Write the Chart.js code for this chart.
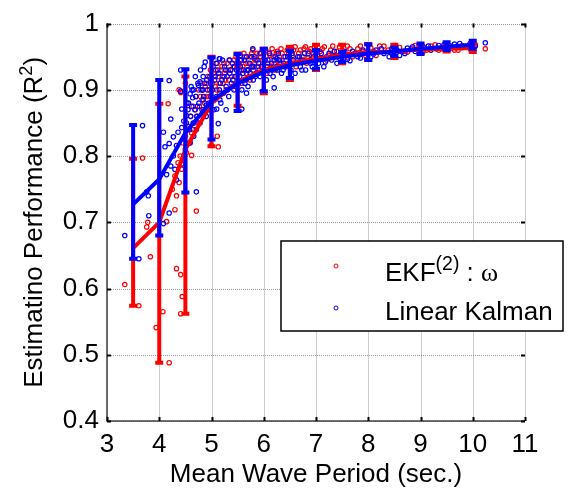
<!DOCTYPE html>
<html>
<head>
<meta charset="utf-8">
<script src="https://cdn.jsdelivr.net/npm/chart.js@4.4.1/dist/chart.umd.min.js"></script>
<style>
  body { margin: 0; background: #fff; }
  canvas { display: block; }
</style>
</head>
<body>
<canvas id="perfChart" width="568" height="494"></canvas>
<script>
// axis ticks
const xTicks = [3, 4, 5, 6, 7, 8, 9, 10, 11];
const yTicks = [0.4, 0.5, 0.6, 0.7, 0.8, 0.9, 1];

// binned mean wave periods with mean and min / max of R^2
const periods = [3.5, 4, 4.5, 5, 5.5, 6, 6.5, 7, 7.5, 8, 8.5, 9, 9.5, 10];
const ekfMean = [0.661, 0.700, 0.810, 0.880, 0.912, 0.930, 0.940, 0.947, 0.953, 0.957, 0.958, 0.961, 0.962, 0.963];
const ekfLow  = [0.574, 0.488, 0.562, 0.815, 0.876, 0.895, 0.915, 0.930, 0.940, 0.945, 0.948, 0.955, 0.958, 0.957];
const ekfHigh = [0.796, 0.879, 0.920, 0.950, 0.955, 0.962, 0.965, 0.968, 0.968, 0.969, 0.968, 0.967, 0.967, 0.969];
const kalmanMean = [0.727, 0.765, 0.835, 0.883, 0.910, 0.927, 0.937, 0.944, 0.950, 0.955, 0.958, 0.962, 0.965, 0.968];
const kalmanLow  = [0.645, 0.680, 0.745, 0.825, 0.868, 0.898, 0.918, 0.932, 0.942, 0.945, 0.951, 0.954, 0.960, 0.962];
const kalmanHigh = [0.847, 0.915, 0.931, 0.949, 0.954, 0.962, 0.959, 0.960, 0.957, 0.969, 0.964, 0.970, 0.972, 0.974];

// individual runs [period, R^2]
const ekfRuns = [
  [3.34,0.606],[3.61,0.574],[3.68,0.797],[3.83,0.648],[3.76,0.693],[3.78,0.700],[3.94,0.541],[4.07,0.565],
  [4.14,0.701],[4.17,0.879],[4.19,0.488],[4.30,0.719],[4.33,0.630],[4.41,0.621],[4.44,0.588],[4.41,0.562],
  [4.41,0.896],[4.59,0.820],[4.62,0.801],[4.71,0.717],[5.00,0.816],[5.13,0.814],[5.11,0.830],[5.82,0.947],
  [10.24,0.962],[4.38,0.900],[4.50,0.910],
  [4.25,0.750],[4.30,0.770],[4.33,0.740],[4.36,0.790],[4.38,0.760],[4.40,0.800],[4.43,0.780],[4.45,0.820],
  [4.47,0.795],[4.50,0.830],[4.52,0.805],[4.55,0.845],[4.57,0.820],[4.60,0.860],[4.62,0.835],[4.65,0.875],
  [4.67,0.850],[4.70,0.890],[4.72,0.860],[4.75,0.900],[4.77,0.875],[4.80,0.910],[4.82,0.885],[4.85,0.870],
  [4.88,0.905],[4.90,0.890],[4.93,0.920],[4.96,0.900],[4.98,0.930],
  [4.64,0.840],[4.69,0.870],[4.74,0.850],[4.79,0.890],[4.84,0.900],[4.87,0.880],[4.91,0.910],[4.95,0.890],
  [4.99,0.915],
  [5.02,0.910],[5.05,0.885],[5.08,0.930],[5.10,0.900],[5.13,0.920],[5.16,0.895],[5.20,0.935],[5.22,0.910],
  [5.25,0.925],[5.28,0.900],[5.30,0.940],[5.33,0.915],[5.36,0.930],[5.40,0.905],[5.43,0.945],[5.46,0.920],
  [5.49,0.935],
  [5.04,0.925],[5.07,0.905],[5.11,0.940],[5.15,0.910],[5.18,0.930],[5.21,0.920],[5.24,0.940],[5.27,0.915],
  [5.32,0.930],[5.35,0.945],[5.39,0.920],[5.42,0.935],[5.47,0.950],
  [5.52,0.925],[5.55,0.945],[5.58,0.910],[5.60,0.935],[5.64,0.950],[5.67,0.925],[5.70,0.940],[5.74,0.915],
  [5.77,0.955],[5.80,0.930],[5.84,0.945],[5.88,0.925],[5.92,0.955],[5.96,0.935],
  [5.53,0.940],[5.57,0.930],[5.62,0.955],[5.66,0.940],[5.69,0.930],[5.73,0.950],[5.76,0.935],[5.79,0.960],
  [5.83,0.940],[5.87,0.955],[5.90,0.935],[5.94,0.950],[5.98,0.945],
  [6.02,0.945],[6.06,0.925],[6.10,0.955],[6.14,0.935],[6.18,0.950],[6.22,0.930],[6.26,0.958],[6.30,0.940],
  [6.35,0.955],[6.40,0.935],[6.45,0.960],
  [6.04,0.960],[6.08,0.940],[6.12,0.952],[6.16,0.962],[6.20,0.940],[6.24,0.955],[6.28,0.945],[6.33,0.962],
  [6.38,0.950],[6.43,0.945],[6.48,0.955],
  [6.52,0.945],[6.57,0.960],[6.62,0.935],[6.67,0.955],[6.72,0.945],[6.77,0.962],[6.82,0.940],[6.87,0.958],
  [6.92,0.948],[6.97,0.963],
  [6.55,0.952],[6.60,0.965],[6.65,0.945],[6.70,0.960],[6.75,0.950],[6.80,0.965],[6.85,0.948],[6.90,0.962],
  [6.95,0.955],
  [7.05,0.950],[7.12,0.962],[7.20,0.945],[7.28,0.960],[7.35,0.952],[7.45,0.965],[7.55,0.948],[7.65,0.962],
  [7.75,0.955],[7.85,0.966],[7.95,0.952],
  [7.08,0.958],[7.16,0.965],[7.24,0.952],[7.32,0.966],[7.40,0.958],[7.50,0.955],[7.60,0.966],[7.70,0.950],
  [7.80,0.962],[7.90,0.958],
  [8.05,0.963],[8.15,0.952],[8.30,0.966],[8.45,0.955],[8.60,0.964],[8.75,0.957],[8.90,0.967],[9.05,0.958],
  [9.20,0.966],[9.35,0.960],[9.50,0.968],[9.65,0.960],[9.80,0.967],[9.95,0.962],[10.05,0.968],
  [8.10,0.958],[8.22,0.966],[8.38,0.960],[8.52,0.967],[8.68,0.958],[8.82,0.962],[8.98,0.966],[9.12,0.960],
  [9.28,0.968],[9.42,0.962],[9.58,0.966],[9.72,0.960],[9.88,0.965],[10.00,0.960]
];
const kalmanRuns = [
  [3.34,0.680],[3.61,0.645],[3.68,0.846],[3.76,0.746],[3.80,0.710],[3.79,0.740],[4.08,0.698],[4.19,0.714],
  [4.08,0.836],[4.11,0.814],[4.19,0.914],[4.22,0.856],[4.27,0.829],[4.41,0.930],[4.41,0.898],[4.43,0.871],
  [4.71,0.746],[4.88,0.942],[5.16,0.947],[5.79,0.962],[6.20,0.903],[10.24,0.971],
  [4.19,0.819],[4.36,0.836],[4.43,0.843],[4.47,0.853],[4.52,0.861],[4.62,0.875],[4.64,0.888],[4.66,0.900],
  [4.75,0.907],[4.78,0.912],[4.84,0.920],[4.59,0.894],[4.53,0.880],[4.33,0.816],[4.27,0.800],[4.22,0.785],
  [4.14,0.772],[4.33,0.764],[4.43,0.788],[4.30,0.780],[4.50,0.810],[4.59,0.820],[4.66,0.830],[4.71,0.840],
  [4.84,0.860],[4.90,0.877],[5.10,0.871],[5.13,0.849],[5.28,0.870],[5.16,0.885],[4.84,0.885],
  [5.15,0.947],[5.55,0.952],[6.25,0.947],[5.99,0.898],[5.67,0.895],[5.58,0.871],
  [4.52,0.850],[4.55,0.870],[4.58,0.840],[4.60,0.860],[4.63,0.900],[4.65,0.850],[4.68,0.870],[4.70,0.890],
  [4.72,0.860],[4.74,0.910],[4.76,0.880],[4.78,0.850],[4.80,0.900],[4.82,0.870],[4.85,0.890],[4.87,0.910],
  [4.90,0.860],[4.92,0.900],[4.95,0.880],[4.97,0.920],[4.99,0.890],
  [4.56,0.880],[4.61,0.905],[4.69,0.920],[4.73,0.875],[4.79,0.930],[4.83,0.900],[4.86,0.935],[4.91,0.915],
  [4.94,0.870],[4.98,0.910],
  [5.02,0.900],[5.05,0.870],[5.07,0.920],[5.10,0.890],[5.12,0.930],[5.15,0.900],[5.18,0.880],[5.20,0.915],
  [5.23,0.895],[5.25,0.935],[5.28,0.905],[5.30,0.920],[5.33,0.890],[5.35,0.925],[5.38,0.910],[5.40,0.940],
  [5.43,0.900],[5.45,0.920],[5.48,0.930],
  [5.03,0.935],[5.06,0.915],[5.09,0.940],[5.14,0.925],[5.17,0.910],[5.21,0.945],[5.24,0.920],[5.27,0.930],
  [5.31,0.900],[5.34,0.945],[5.37,0.930],[5.41,0.915],[5.44,0.935],[5.47,0.905],
  [5.52,0.910],[5.55,0.935],[5.58,0.900],[5.60,0.925],[5.63,0.945],[5.65,0.915],[5.68,0.930],[5.70,0.905],
  [5.73,0.940],[5.75,0.920],[5.78,0.935],[5.80,0.915],[5.83,0.950],[5.86,0.925],[5.90,0.940],[5.93,0.920],
  [5.96,0.935],
  [5.51,0.940],[5.54,0.920],[5.57,0.945],[5.61,0.930],[5.64,0.910],[5.67,0.950],[5.71,0.930],[5.74,0.925],
  [5.77,0.950],[5.81,0.935],[5.84,0.920],[5.87,0.945],[5.91,0.930],[5.94,0.955],[5.98,0.925],
  [6.02,0.930],[6.05,0.915],[6.08,0.945],[6.12,0.925],[6.15,0.940],[6.18,0.920],[6.22,0.950],[6.26,0.930],
  [6.30,0.945],[6.34,0.925],[6.38,0.940],[6.42,0.935],[6.46,0.950],
  [6.03,0.945],[6.07,0.935],[6.11,0.955],[6.16,0.930],[6.20,0.945],[6.24,0.935],[6.28,0.955],[6.33,0.940],
  [6.37,0.930],[6.41,0.950],[6.48,0.940],
  [6.52,0.930],[6.56,0.945],[6.60,0.925],[6.65,0.950],[6.70,0.935],[6.75,0.945],[6.80,0.930],[6.85,0.955],
  [6.90,0.940],[6.95,0.950],
  [6.54,0.955],[6.62,0.940],[6.68,0.950],[6.73,0.930],[6.78,0.955],[6.88,0.945],[6.93,0.935],[6.98,0.958],
  [7.05,0.940],[7.10,0.955],[7.15,0.935],[7.20,0.950],[7.30,0.945],[7.35,0.958],[7.40,0.940],[7.50,0.952],
  [7.60,0.946],[7.70,0.958],[7.80,0.950],[7.90,0.960],
  [7.08,0.948],[7.18,0.942],[7.25,0.955],[7.45,0.948],[7.55,0.958],[7.65,0.944],[7.75,0.955],[7.85,0.948],
  [7.95,0.956],
  [8.05,0.950],[8.15,0.960],[8.30,0.955],[8.45,0.962],[8.60,0.952],[8.75,0.963],[8.90,0.958],[9.05,0.965],
  [9.20,0.960],[9.35,0.967],[9.50,0.962],[9.65,0.969],[9.80,0.964],[9.95,0.970],[10.05,0.966],
  [8.10,0.954],[8.25,0.962],[8.40,0.950],[8.55,0.960],[8.70,0.955],[8.85,0.965],[9.00,0.958],[9.15,0.966],
  [9.30,0.962],[9.45,0.968],[9.60,0.964],[9.75,0.970],[9.90,0.966],[10.00,0.972]
];

const RED = '#ff0000';
const BLUE = '#0000ff';
const FONT = '"Liberation Sans", Arial, sans-serif';
const FS = 26;

function toPoints(runs) {
  return runs.map(r => ({ x: r[0], y: r[1] }));
}
function meanPoints(means) {
  return periods.map((p, i) => ({ x: p, y: means[i] }));
}

// draws min/max bars with caps right after the mean line of a series
const errorBars = {
  id: 'errorBars',
  afterDatasetDraw(chart, args) {
    const ds = chart.data.datasets[args.index];
    if (!ds.low) return;
    const { ctx, scales: { x, y } } = chart;
    ctx.save();
    ctx.strokeStyle = ds.borderColor;
    ctx.lineWidth = 4;
    ctx.lineCap = 'butt';
    periods.forEach((p, i) => {
      const px = x.getPixelForValue(p);
      const lo = y.getPixelForValue(ds.low[i]);
      const hi = y.getPixelForValue(ds.high[i]);
      ctx.beginPath();
      ctx.moveTo(px, lo);
      ctx.lineTo(px, hi);
      ctx.moveTo(px - 4, lo);
      ctx.lineTo(px + 4, lo);
      ctx.moveTo(px - 4, hi);
      ctx.lineTo(px + 4, hi);
      ctx.stroke();
    });
    ctx.restore();
  }
};

// matlab style box: dotted grid, inward ticks, titles and legend
const axesBox = {
  id: 'axesBox',
  beforeDatasetsDraw(chart) {
    const { ctx, chartArea: a, scales: { x, y } } = chart;
    ctx.save();
    ctx.strokeStyle = '#9a9a9a';
    ctx.lineWidth = 1;
    ctx.setLineDash([1, 1]);
    xTicks.forEach(v => {
      const px = Math.round(x.getPixelForValue(v)) + 0.5;
      ctx.beginPath(); ctx.moveTo(px, a.top); ctx.lineTo(px, a.bottom); ctx.stroke();
    });
    yTicks.forEach(v => {
      const py = Math.round(y.getPixelForValue(v)) + 0.5;
      ctx.beginPath(); ctx.moveTo(a.left, py); ctx.lineTo(a.right, py); ctx.stroke();
    });
    ctx.restore();
  },
  afterDraw(chart) {
    const { ctx, chartArea: a, scales: { x, y } } = chart;
    ctx.save();
    // left and bottom axis lines
    ctx.strokeStyle = '#404040';
    ctx.lineWidth = 1.5;
    ctx.beginPath();
    ctx.moveTo(a.left, a.top);
    ctx.lineTo(a.left, a.bottom);
    ctx.lineTo(a.right, a.bottom);
    ctx.stroke();
    // inward ticks on all sides
    ctx.strokeStyle = '#000';
    ctx.lineWidth = 2;
    xTicks.forEach(v => {
      const px = Math.round(x.getPixelForValue(v)) + 0.5;
      ctx.beginPath();
      ctx.moveTo(px, a.bottom); ctx.lineTo(px, a.bottom - 4);
      ctx.moveTo(px, a.top); ctx.lineTo(px, a.top + 4);
      ctx.stroke();
    });
    yTicks.forEach(v => {
      const py = Math.round(y.getPixelForValue(v)) + 0.5;
      ctx.beginPath();
      ctx.moveTo(a.left, py); ctx.lineTo(a.left + 4, py);
      ctx.moveTo(a.right, py); ctx.lineTo(a.right - 4, py);
      ctx.stroke();
    });

    ctx.fillStyle = '#000';
    ctx.textBaseline = 'alphabetic';

    // x title
    ctx.font = FS + 'px ' + FONT;
    ctx.textAlign = 'center';
    ctx.fillText('Mean Wave Period (sec.)', (a.left + a.right) / 2, 482);

    // y title with superscript
    ctx.save();
    ctx.translate(42, (a.top + a.bottom) / 2);
    ctx.rotate(-Math.PI / 2);
    ctx.textAlign = 'left';
    const main = 'Estimatino Performance (R';
    ctx.font = FS + 'px ' + FONT;
    const w1 = ctx.measureText(main).width;
    const w3 = ctx.measureText(')').width;
    ctx.font = (FS * 0.7) + 'px ' + FONT;
    const w2 = ctx.measureText('2').width;
    let sx = -(w1 + w2 + w3) / 2;
    ctx.font = FS + 'px ' + FONT;
    ctx.fillText(main, sx, 0);
    ctx.font = (FS * 0.7) + 'px ' + FONT;
    ctx.fillText('2', sx + w1, -10);
    ctx.font = FS + 'px ' + FONT;
    ctx.fillText(')', sx + w1 + w2, 0);
    ctx.restore();

    // legend
    ctx.fillStyle = '#fff';
    ctx.fillRect(281, 241, 282, 90);
    ctx.strokeStyle = '#000';
    ctx.lineWidth = 1.5;
    ctx.strokeRect(281, 241, 282, 90);
    ctx.lineWidth = 1;
    ctx.strokeStyle = RED;
    ctx.beginPath(); ctx.arc(336, 266, 2, 0, Math.PI * 2); ctx.stroke();
    ctx.strokeStyle = BLUE;
    ctx.beginPath(); ctx.arc(336, 308, 2, 0, Math.PI * 2); ctx.stroke();

    ctx.fillStyle = '#000';
    ctx.textAlign = 'left';
    ctx.font = FS + 'px ' + FONT;
    ctx.fillText('EKF', 385, 281);
    let lx = 385 + ctx.measureText('EKF').width;
    ctx.font = (FS * 0.75) + 'px ' + FONT;
    ctx.fillText('(2)', lx, 270);
    lx += ctx.measureText('(2)').width;
    ctx.font = FS + 'px ' + FONT;
    ctx.fillText(' : ', lx, 281);
    lx += ctx.measureText(' : ').width;
    ctx.font = FS + 'px "Liberation Serif", "Times New Roman", serif';
    ctx.fillText('\u03c9', lx, 281);
    ctx.font = FS + 'px ' + FONT;
    ctx.fillText('Linear Kalman', 385, 320);
    ctx.restore();
  }
};

new Chart(document.getElementById('perfChart'), {
  type: 'scatter',
  data: {
    datasets: [
      {
        label: 'EKF runs',
        data: toPoints(ekfRuns),
        borderColor: RED,
        backgroundColor: 'rgba(0,0,0,0)',
        borderWidth: 1.2,
        pointRadius: 2.2,
        order: 4
      },
      {
        label: 'Kalman runs',
        data: toPoints(kalmanRuns),
        borderColor: BLUE,
        backgroundColor: 'rgba(0,0,0,0)',
        borderWidth: 1.2,
        pointRadius: 2.2,
        order: 3
      },
      {
        type: 'line',
        label: 'EKF mean',
        data: meanPoints(ekfMean),
        low: ekfLow,
        high: ekfHigh,
        borderColor: RED,
        borderWidth: 4,
        pointRadius: 0,
        tension: 0,
        fill: false,
        order: 2
      },
      {
        type: 'line',
        label: 'Kalman mean',
        data: meanPoints(kalmanMean),
        low: kalmanLow,
        high: kalmanHigh,
        borderColor: BLUE,
        borderWidth: 4,
        pointRadius: 0,
        tension: 0,
        fill: false,
        order: 1
      }
    ]
  },
  options: {
    responsive: false,
    animation: false,
    events: [],
    layout: { padding: { left: 0, right: 43, top: 16, bottom: 0 } },
    plugins: {
      legend: { display: false },
      tooltip: { enabled: false }
    },
    scales: {
      x: {
        type: 'linear',
        min: 3,
        max: 11,
        afterFit(scale) { scale.height = 73; },
        afterBuildTicks(scale) { scale.ticks = xTicks.map(v => ({ value: v })); },
        grid: { display: false, drawTicks: false },
        border: { display: false },
        ticks: {
          color: '#000',
          padding: 8,
          font: { family: FONT, size: FS },
          maxRotation: 0
        }
      },
      y: {
        min: 0.4,
        max: 1,
        afterFit(scale) { scale.width = 107; },
        afterBuildTicks(scale) { scale.ticks = yTicks.map(v => ({ value: v })); },
        grid: { display: false, drawTicks: false },
        border: { display: false },
        ticks: {
          color: '#000',
          padding: 8,
          font: { family: FONT, size: FS },
          callback: v => String(Number(v.toFixed(1)))
        }
      }
    }
  },
  plugins: [errorBars, axesBox]
});
</script>
</body>
</html>
